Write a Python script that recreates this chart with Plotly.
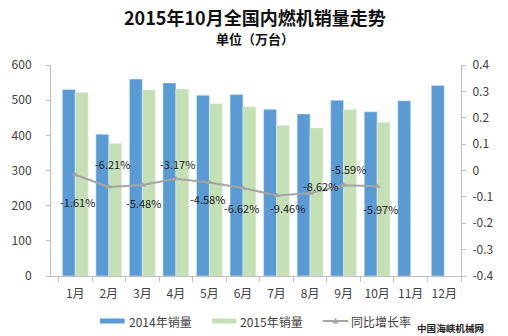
import plotly.graph_objects as go

# Monthly sales (10k units) and year-on-year growth
months = ["1月", "2月", "3月", "4月", "5月", "6月", "7月", "8月", "9月", "10月", "11月", "12月"]
sales_2014 = [530, 403, 560, 549, 514, 516, 474, 461, 500, 467, 498, 542]
sales_2015 = [522, 377, 529, 532, 490, 481, 428, 421, 473, 437, None, None]
growth = [-0.0161, -0.0621, -0.0548, -0.0317, -0.0458, -0.0662, -0.0946, -0.0862, -0.0559, -0.0597]
right_ticks = [0.4, 0.3, 0.2, 0.1, 0, -0.1, -0.2, -0.3, -0.4]
series_names = ["2014年销量", "2015年销量", "同比增长率"]

# label offsets (px) for the growth-rate labels
label_dx = [2, 4, 1, 2, -2, -1, 11, 10, 5, 3]
label_dy = [-27, 23, -18, 15, -16, -20, -13, 7, 16, -23]

BLUE = "#5B9BD5"
GREEN = "#C5E0B4"
GRAY = "#A5A5A5"
TXT = "#404040"
FONT = "Noto Sans CJK SC"

W, H = 508, 336
L, R, T, B = 43, 47, 65, 60
pw, ph = W - L - R, H - T - B


def px(x, y):
    """Pixel position (from top-left) to paper coordinates."""
    return (x - L) / pw, (H - B - y) / ph


fig = go.Figure()
fig.add_trace(go.Bar(x=months, y=sales_2014, name=series_names[0], marker_color=BLUE))
fig.add_trace(go.Bar(x=months, y=sales_2015, name=series_names[1], marker_color=GREEN))
fig.add_trace(go.Scatter(
    x=months[:len(growth)], y=growth, name=series_names[2], yaxis="y2",
    mode="lines+markers", line=dict(color=GRAY, width=2),
    marker=dict(symbol="triangle-up", size=6, color=GRAY),
))

annotations = []
for m, g, dx, dy in zip(months, growth, label_dx, label_dy):
    annotations.append(dict(
        x=m, y=g, xref="x", yref="y2", text=f"{g * 100:.2f}%", showarrow=False,
        xshift=dx, yshift=dy, font=dict(family=FONT, size=11, color="#222222"),
    ))


def text_at(text, x, y, size, color, xanchor="center", bold=False):
    xp, yp = px(x, y)
    annotations.append(dict(
        text=f"<b>{text}</b>" if bold else text, x=xp, y=yp, xref="paper", yref="paper",
        xanchor=xanchor, yanchor="middle", showarrow=False,
        font=dict(family=FONT, size=size, color=color),
    ))


text_at("2015年10月全国内燃机销量走势", 251, 16.5, 18, "#111111", bold=True)
text_at("单位（万台）", 251, 38.5, 13, "#111111", bold=True)
text_at("中国海峡机械网", 414, 328, 9.6, "#222222", xanchor="left", bold=True)

# legend drawn as swatches + labels
shapes = []
for color, x0 in ((BLUE, 93), (GREEN, 207)):
    a = px(x0, 318.5)
    b = px(x0 + 25, 323.5)
    shapes.append(dict(type="rect", xref="paper", yref="paper", x0=a[0], x1=b[0],
                       y0=b[1], y1=a[1], fillcolor=color, line=dict(width=0)))
la, lb = px(320, 321), px(346, 321)
shapes.append(dict(type="line", xref="paper", yref="paper", x0=la[0], x1=lb[0],
                   y0=la[1], y1=lb[1], line=dict(color=GRAY, width=2)))
# triangle marker on the legend line
tri = [px(330, 323.5), px(336, 323.5), px(333, 317.5)]
shapes.append(dict(type="path", xref="paper", yref="paper",
                   path="M {} {} L {} {} L {} {} Z".format(*[c for p in tri for c in p]),
                   fillcolor=GRAY, line=dict(width=0)))
text_at(series_names[0], 120, 321, 12, TXT, xanchor="left")
text_at(series_names[1], 234, 321, 12, TXT, xanchor="left")
text_at(series_names[2], 347, 321, 12, TXT, xanchor="left")

fig.update_layout(
    width=W, height=H,
    margin=dict(l=L, r=R, t=T, b=B, pad=0),
    paper_bgcolor="white", plot_bgcolor="white",
    barmode="group", bargap=0.23, bargroupgap=0,
    font=dict(family=FONT, size=12, color=TXT),
    showlegend=False,
    xaxis=dict(showline=True, linecolor="#BFBFBF", linewidth=1, ticks="outside",
               tickson="boundaries", ticklen=5, tickcolor="#BFBFBF", tickangle=0,
               ticklabelstandoff=7,
               tickfont=dict(family=FONT, size=12, color=TXT), showgrid=False),
    yaxis=dict(range=[0, 600], dtick=100, showline=True, linecolor="#BFBFBF",
               showgrid=False, zeroline=False, ticks="outside", ticklen=4,
               tickcolor="#BFBFBF", ticklabelstandoff=12,
               tickfont=dict(family=FONT, size=12, color=TXT)),
    yaxis2=dict(range=[-0.4, 0.4], overlaying="y", side="right", showline=True,
                linecolor="#BFBFBF", showgrid=False, zeroline=False,
                tickvals=right_ticks, ticktext=[("%g" % v) for v in right_ticks],
                ticks="outside", ticklen=4, tickcolor="#BFBFBF", ticklabelstandoff=4,
                tickfont=dict(family=FONT, size=12, color=TXT)),
    annotations=annotations,
    shapes=shapes,
)

fig.write_html("out.html")
